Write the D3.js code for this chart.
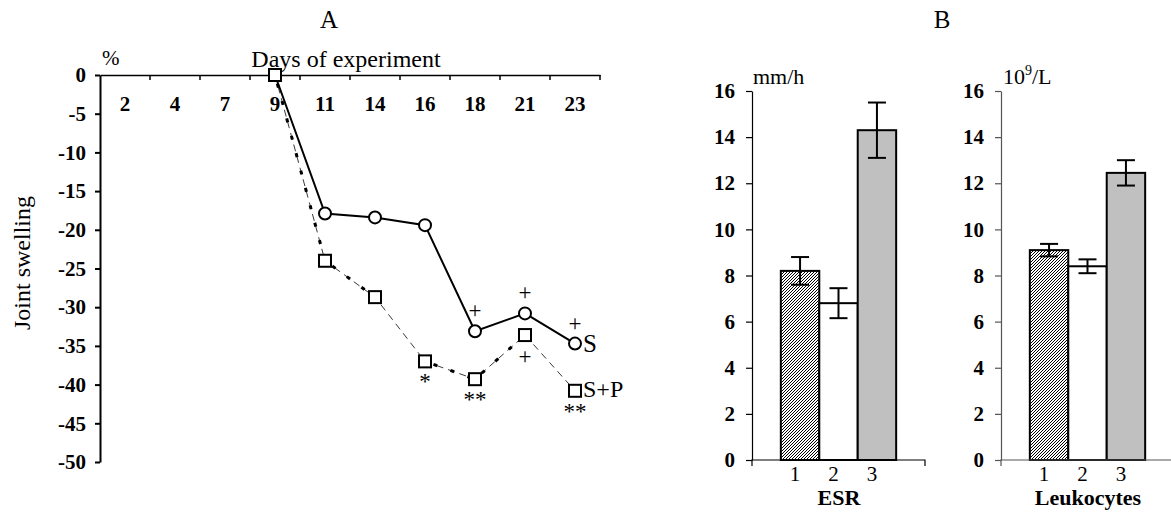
<!DOCTYPE html>
<html>
<head>
<meta charset="utf-8">
<script src="https://cdn.jsdelivr.net/npm/d3@7"></script>
<style>
body { margin: 0; background: #fff; }
svg text { font-family: "Liberation Serif", "Times New Roman", serif; fill: #000; }
.tick text { font-weight: bold; font-size: 21px; }
</style>
</head>
<body>
<div id="chart"></div>
<script>
// panel A data
var days = [2, 4, 7, 9, 11, 14, 16, 18, 21, 23];
var measuredDays = [9, 11, 14, 16, 18, 21, 23];
var swellingS = [0, -17.9, -18.4, -19.4, -33.1, -30.8, -34.7];
var swellingSP = [0, -24.0, -28.7, -37.0, -39.3, -33.6, -40.8];
var marksS = ["", "", "", "", "+", "+", "+"];
var marksSP = ["", "", "", "*", "**", "+", "**"];
var boldSegments = [[9, 11], [11, 14], [16, 18], [18, 21]];
var swellingTicks = [0, -5, -10, -15, -20, -25, -30, -35, -40, -45, -50];

// panel B data
var groups = ["1", "2", "3"];
var esrValues = [8.2, 6.8, 14.3];
var esrErrors = [0.6, 0.65, 1.2];
var leukoValues = [9.1, 8.4, 12.45];
var leukoErrors = [0.27, 0.3, 0.55];
var barTicks = [0, 2, 4, 6, 8, 10, 12, 14, 16];

var W = 1171, H = 513;

var svg = d3.select("#chart").append("svg")
    .attr("width", W)
    .attr("height", H)
    .attr("font-family", "Liberation Serif");

// hatch for the first bar
var defs = svg.append("defs");
var pat = defs.append("pattern")
    .attr("id", "hatch")
    .attr("patternUnits", "userSpaceOnUse")
    .attr("width", 3)
    .attr("height", 3);
pat.append("rect").attr("width", 3).attr("height", 3).attr("fill", "#fff");
pat.append("path")
    .attr("d", "M-1,1 l2,-2 M0,3 l3,-3 M2,4 l2,-2")
    .attr("stroke", "#000")
    .attr("stroke-width", 1);

function plain(d) { return String(d); } // keep the ascii hyphen

// ---------- panel A ----------
var xA = d3.scaleBand().domain(days).range([100, 600]);
var yA = d3.scaleLinear().domain([-50, 0]).range([462, 75]);

var gA = svg.append("g");

var yAxisA = gA.append("g")
    .attr("transform", "translate(100,0)")
    .call(d3.axisLeft(yA).tickValues(swellingTicks).tickFormat(plain).tickSize(5).tickSizeOuter(0).tickPadding(9));
yAxisA.attr("font-family", null).attr("font-size", null);
yAxisA.selectAll("path, line").attr("stroke", "#000").attr("stroke-width", 2);

var xAxisA = gA.append("g")
    .attr("transform", "translate(0,75)")
    .call(d3.axisBottom(xA).tickSize(0).tickSizeOuter(0).tickPadding(21));
xAxisA.attr("font-family", null).attr("font-size", null);
xAxisA.select(".domain").attr("stroke", "#000").attr("stroke-width", 1.5);

// tick marks between categories
var boundaries = days.map(function(d) { return xA(d); }).concat([xA.range()[1]]);
gA.selectAll(".btick")
    .data(boundaries.slice(1))
    .enter().append("line")
    .attr("x1", function(d) { return d; })
    .attr("x2", function(d) { return d; })
    .attr("y1", 75)
    .attr("y2", 80)
    .attr("stroke", "#000")
    .attr("stroke-width", 1.5);

gA.append("text").attr("x", 329).attr("y", 28).attr("text-anchor", "middle")
    .style("font-size", "25px").text("A");
gA.append("text").attr("x", 346).attr("y", 67).attr("text-anchor", "middle")
    .style("font-size", "24px").text("Days of experiment");
gA.append("text").attr("x", 102).attr("y", 65)
    .style("font-size", "21px").text("%");
gA.append("text").attr("transform", "translate(30,263) rotate(-90)")
    .attr("text-anchor", "middle").style("font-size", "24px").text("Joint swelling");

var ptsS = measuredDays.map(function(d, i) { return {day: d, v: swellingS[i], mark: marksS[i]}; });
var ptsSP = measuredDays.map(function(d, i) { return {day: d, v: swellingSP[i], mark: marksSP[i]}; });

function px(d) { return xA(d.day) + xA.bandwidth() / 2; }
function py(d) { return yA(d.v); }

var line = d3.line().x(px).y(py);

// thin dashed S+P line
gA.append("path")
    .datum(ptsSP)
    .attr("d", line)
    .attr("fill", "none")
    .attr("stroke", "#222")
    .attr("stroke-width", 0.9)
    .attr("stroke-dasharray", "7,5");

// heavy dotted pieces on top of it
boldSegments.forEach(function(seg) {
  var part = ptsSP.filter(function(p) { return p.day >= seg[0] && p.day <= seg[1]; });
  gA.append("path")
    .datum(part)
    .attr("d", line)
    .attr("fill", "none")
    .attr("stroke", "#000")
    .attr("stroke-width", 3)
    .attr("stroke-dasharray", "4,14")
    .attr("stroke-dashoffset", -9);
});

// solid S line
gA.append("path")
    .datum(ptsS)
    .attr("d", line)
    .attr("fill", "none")
    .attr("stroke", "#000")
    .attr("stroke-width", 2);

gA.selectAll(".circ")
    .data(ptsS)
    .enter().append("circle")
    .attr("cx", px)
    .attr("cy", py)
    .attr("r", 6)
    .attr("fill", "#fff")
    .attr("stroke", "#000")
    .attr("stroke-width", 2);

gA.selectAll(".sq")
    .data(ptsSP)
    .enter().append("rect")
    .attr("x", function(d) { return px(d) - 6; })
    .attr("y", function(d) { return py(d) - 6; })
    .attr("width", 12)
    .attr("height", 12)
    .attr("fill", "#fff")
    .attr("stroke", "#000")
    .attr("stroke-width", 2);

// significance marks
gA.selectAll(".markS")
    .data(ptsS.filter(function(d) { return d.mark; }))
    .enter().append("text")
    .attr("x", px)
    .attr("y", function(d) { return py(d) - 13; })
    .attr("text-anchor", "middle")
    .style("font-size", "23px")
    .text(function(d) { return d.mark; });

gA.selectAll(".markSP")
    .data(ptsSP.filter(function(d) { return d.mark; }))
    .enter().append("text")
    .attr("x", px)
    .attr("y", function(d) { return py(d) + (d.mark == "+" ? 29 : 28); })
    .attr("text-anchor", "middle")
    .style("font-size", "23px")
    .text(function(d) { return d.mark; });

var lastS = ptsS[ptsS.length - 1], lastSP = ptsSP[ptsSP.length - 1];
gA.append("text").attr("x", px(lastS) + 8).attr("y", py(lastS) + 8)
    .style("font-size", "25px").text("S");
gA.append("text").attr("x", px(lastSP) + 8).attr("y", py(lastSP) + 6)
    .style("font-size", "24px").text("S+P");

svg.append("text").attr("x", 942).attr("y", 28).attr("text-anchor", "middle")
    .style("font-size", "25px").text("B");

// ---------- panel B ----------
var fills = ["url(#hatch)", "#fff", "#c0c0c0"];

function drawBars(x0, axisColor, values, errors, title) {
  var g = svg.append("g");
  var x = d3.scaleBand().domain(groups).range([x0, x0 + 173]).paddingInner(0).paddingOuter(0.75);
  var y = d3.scaleLinear().domain([0, 16]).range([460, 91]);

  var data = groups.map(function(k, i) { return {k: k, v: values[i], e: errors[i], fill: fills[i]}; });

  g.selectAll(".bar")
    .data(data)
    .enter().append("rect")
    .attr("x", function(d) { return x(d.k); })
    .attr("y", function(d) { return y(d.v); })
    .attr("width", x.bandwidth())
    .attr("height", function(d) { return y(0) - y(d.v); })
    .attr("fill", function(d) { return d.fill; })
    .attr("stroke", "#000")
    .attr("stroke-width", 2);

  var eb = g.selectAll(".err")
    .data(data)
    .enter().append("g")
    .attr("stroke", "#000")
    .attr("stroke-width", 2);
  eb.append("line")
    .attr("x1", function(d) { return x(d.k) + x.bandwidth() / 2; })
    .attr("x2", function(d) { return x(d.k) + x.bandwidth() / 2; })
    .attr("y1", function(d) { return y(d.v + d.e); })
    .attr("y2", function(d) { return y(d.v - d.e); });
  [1, -1].forEach(function(s) {
    eb.append("line")
      .attr("x1", function(d) { return x(d.k) + x.bandwidth() / 2 - 9; })
      .attr("x2", function(d) { return x(d.k) + x.bandwidth() / 2 + 9; })
      .attr("y1", function(d) { return y(d.v + s * d.e); })
      .attr("y2", function(d) { return y(d.v + s * d.e); });
  });

  var ya = g.append("g")
    .attr("transform", "translate(" + x0 + ",0)")
    .call(d3.axisLeft(y).tickValues(barTicks).tickFormat(plain).tickSize(6).tickSizeOuter(0).tickPadding(11));
  ya.attr("font-family", null).attr("font-size", null);
  ya.selectAll("path, line").attr("stroke", axisColor).attr("stroke-width", 1.2);

  // baseline with end ticks
  g.append("path")
    .attr("d", "M" + x0 + "," + (y(0) + 6) + "V" + y(0) + "H" + (x0 + 173) + "V" + (y(0) + 6))
    .attr("fill", "none")
    .attr("stroke", axisColor)
    .attr("stroke-width", 1.2);

  g.selectAll(".cat")
    .data(groups)
    .enter().append("text")
    .attr("x", function(d) { return x(d) + x.bandwidth() / 2 - 5; })
    .attr("y", 481)
    .attr("text-anchor", "middle")
    .style("font-size", "21px")
    .text(function(d) { return d; });

  g.append("text")
    .attr("x", x0 + 87)
    .attr("y", 505)
    .attr("text-anchor", "middle")
    .style("font-size", "22px")
    .style("font-weight", "bold")
    .text(title);
  return g;
}

var gE = drawBars(752, "#000", esrValues, esrErrors, "ESR");
gE.append("text").attr("x", 753).attr("y", 84).style("font-size", "22px").text("mm/h");

var gL = drawBars(1001, "#555", leukoValues, leukoErrors, "Leukocytes");
var unit = gL.append("text").attr("x", 1003).attr("y", 84).style("font-size", "22px");
unit.append("tspan").text("10");
unit.append("tspan").attr("dy", -9).style("font-size", "14px").text("9");
unit.append("tspan").attr("dy", 9).text("/L");
</script>
</body>
</html>
